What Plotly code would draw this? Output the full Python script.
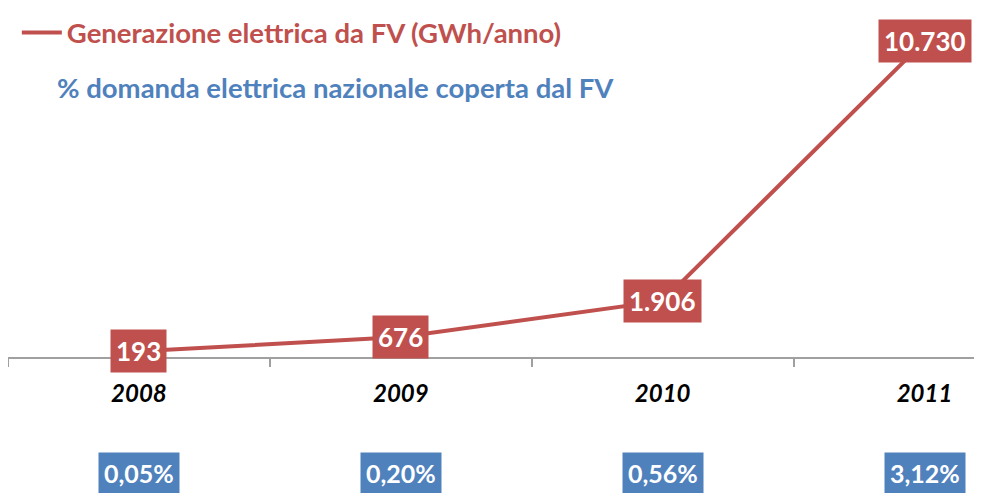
import plotly.graph_objects as go

anni = ["2008", "2009", "2010", "2011"]
gwh = [193, 676, 1906, 10730]
gwh_label = ["193", "676", "1.906", "10.730"]
quota = ["0,05%", "0,20%", "0,56%", "3,12%"]

RED = "#C0504D"
BLUE = "#4F81BD"
FONT = "Lato"

fig = go.Figure()
fig.add_trace(go.Scatter(x=anni, y=gwh, mode="lines", name="<b>Generazione elettrica da FV (GWh/anno)</b>",
                         line=dict(color=RED, width=4), hoverinfo="skip"))

# etichette dei valori (riquadri rossi)
for i, (v, t) in enumerate(zip(gwh, gwh_label)):
    fig.add_annotation(x=i, y=v, text="<b>%s</b>" % t, showarrow=False,
                       font=dict(family=FONT, size=26, color="white"),
                       bgcolor=RED, borderpad=5)

# quota sulla domanda (riquadri blu sotto l'asse)
for i, q in enumerate(quota):
    fig.add_annotation(x=i, y=-0.345, yref="paper", text="<b>%s</b>" % q, showarrow=False,
                       font=dict(family=FONT, size=25, color="white"),
                       bgcolor=BLUE, borderpad=5, yanchor="middle")

fig.add_annotation(x=0.048, y=0.80, xref="paper", yref="paper", xanchor="left", yanchor="middle",
                   text="<b>% domanda elettrica nazionale coperta dal FV</b>", showarrow=False,
                   font=dict(family=FONT, size=27.5, color=BLUE))

fig.update_layout(
    width=982, height=493,
    margin=dict(l=0, r=0, t=0, b=144),
    paper_bgcolor="white", plot_bgcolor="white",
    showlegend=True,
    legend=dict(x=0.009, y=1.035, xanchor="left", yanchor="top", itemwidth=40,
                font=dict(family=FONT, size=27.5, color=RED), bgcolor="rgba(0,0,0,0)"),
    xaxis=dict(type="category", range=[-0.5, 3.25], showline=True, linecolor="#A0A0A0", linewidth=2,
               ticks="outside", tickson="boundaries", ticklen=8, tickcolor="#A0A0A0", tickwidth=1.5,
               showgrid=False, ticklabelstandoff=14,
               tickfont=dict(family=FONT, size=24, color="black"),
               tickvals=anni, ticktext=["<b><i>%s</i></b>" % a for a in anni]),
    yaxis=dict(range=[0, 11450], visible=False),
)

fig.write_html("out.html")
